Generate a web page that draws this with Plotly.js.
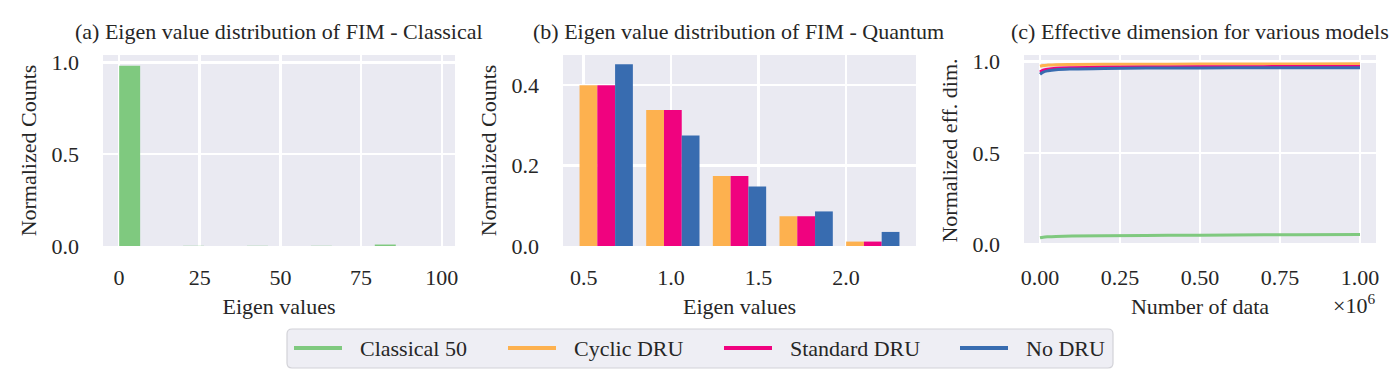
<!DOCTYPE html>
<html>
<head>
<meta charset="utf-8">
<script src="https://cdn.plot.ly/plotly-3.0.1.min.js"></script>
<style>
html,body{margin:0;padding:0;background:#fff;}
#chart{width:1400px;height:379px;}
</style>
</head>
<body>
<div id="chart"></div>
<script>
// ---- Data ----
// (a) classical FIM eigenvalue histogram
const classicalBinCenters = [3.3, 23.1, 42.9, 62.7, 82.5];
const classicalCounts = [0.981, 0.001, 0.001, 0.001, 0.008];

// (b) quantum FIM eigenvalue histogram (bin centers)
const quantumBinCenters = [0.629, 1.010, 1.391, 1.772, 2.153];
const cyclicCounts = [0.400, 0.338, 0.174, 0.074, 0.011];
const standardCounts = [0.400, 0.338, 0.174, 0.074, 0.011];
const noDruCounts = [0.452, 0.275, 0.148, 0.086, 0.035];

// (c) normalized effective dimension vs number of data
const numData = [0, 10000, 25000, 50000, 100000, 200000, 400000, 600000, 800000, 1000000];
const effClassical = [0.038, 0.041, 0.043, 0.045, 0.047, 0.049, 0.051, 0.053, 0.055, 0.056];
const effCyclic = [0.974, 0.978, 0.980, 0.982, 0.983, 0.984, 0.985, 0.986, 0.986, 0.987];
const effStandard = [0.942, 0.952, 0.958, 0.963, 0.966, 0.968, 0.970, 0.971, 0.972, 0.972];
const effNoDru = [0.930, 0.942, 0.949, 0.955, 0.959, 0.962, 0.964, 0.965, 0.966, 0.966];

const seriesNames = ['Classical 50', 'Cyclic DRU', 'Standard DRU', 'No DRU'];
const xTicksA = [0, 25, 50, 75, 100];
const xTicksB = [0.5, 1.0, 1.5, 2.0];
const xTicksC = [0, 250000, 500000, 750000, 1000000];
const xTickTextC = ['0.00', '0.25', '0.50', '0.75', '1.00'];

// ---- Style ----
const C_GREEN = '#7fc97f', C_ORANGE = '#fdb14f', C_PINK = '#f0027f', C_BLUE = '#386cb0';
const seriesColors = [C_GREEN, C_ORANGE, C_PINK, C_BLUE];
const FONT = 'Liberation Serif, Times New Roman, serif';
const TXT = '#262626';
const BG = '#eaeaf2';
const W = 1400, H = 379;

const traces = [
  {type:'bar', x: classicalBinCenters, y: classicalCounts, width: 6.5, name: seriesNames[0],
   marker:{color:C_GREEN}, xaxis:'x', yaxis:'y', showlegend:false},

  {type:'bar', x: quantumBinCenters, y: cyclicCounts, name: seriesNames[1],
   marker:{color:C_ORANGE}, xaxis:'x2', yaxis:'y2', showlegend:false, offsetgroup:'a'},
  {type:'bar', x: quantumBinCenters, y: standardCounts, name: seriesNames[2],
   marker:{color:C_PINK}, xaxis:'x2', yaxis:'y2', showlegend:false, offsetgroup:'b'},
  {type:'bar', x: quantumBinCenters, y: noDruCounts, name: seriesNames[3],
   marker:{color:C_BLUE}, xaxis:'x2', yaxis:'y2', showlegend:false, offsetgroup:'c'},

  {type:'scatter', mode:'lines', x: numData, y: effClassical, name: seriesNames[0],
   line:{color:C_GREEN, width:3, shape:'spline'}, xaxis:'x3', yaxis:'y3', showlegend:false},
  {type:'scatter', mode:'lines', x: numData, y: effCyclic, name: seriesNames[1],
   line:{color:C_ORANGE, width:3, shape:'spline'}, xaxis:'x3', yaxis:'y3', showlegend:false},
  {type:'scatter', mode:'lines', x: numData, y: effStandard, name: seriesNames[2],
   line:{color:C_PINK, width:3, shape:'spline'}, xaxis:'x3', yaxis:'y3', showlegend:false},
  {type:'scatter', mode:'lines', x: numData, y: effNoDru, name: seriesNames[3],
   line:{color:C_BLUE, width:3, shape:'spline'}, xaxis:'x3', yaxis:'y3', showlegend:false}
];

const yDom = [1 - 246/H, 1 - 55/H];
const TICKFONT = {family: FONT, size: 22, color: TXT};
const TITLEFONT = {family: FONT, size: 22, color: TXT};

function xax(domain, range, titleText, extra) {
  return Object.assign({
    domain: domain, range: range, showgrid: true, gridcolor: '#ffffff', gridwidth: 2.5,
    zeroline: false, showline: false, ticks: '', ticklabelstandoff: 16,
    tickfont: TICKFONT,
    title: {text: titleText, font: TITLEFONT, standoff: 9},
    fixedrange: true
  }, extra);
}
function yax(anchor, range, titleText, extra) {
  return Object.assign({
    domain: yDom, range: range, anchor: anchor, showgrid: true, gridcolor: '#ffffff', gridwidth: 2.5,
    zeroline: false, showline: false, ticks: '', ticklabelstandoff: 23,
    tickfont: TICKFONT,
    title: {text: titleText, font: TITLEFONT, standoff: 8},
    fixedrange: true
  }, extra);
}

// ---- Legend (drawn below the panels) ----
const legendBox = {x0: 287, x1: 1113, y0: 329, y1: 368, r: 5};
const legendLineStart = [294, 508, 724, 960];
const legendLineLen = 48, legendTextGap = 16, legendY = 348;

function px(x) { return x / W; }
function py(y) { return 1 - y / H; }

const shapes = [];
const annotations = [
  {text:'(a) Eigen value distribution of FIM - Classical', xref:'paper', yref:'paper', x:px(279), y:py(32), xanchor:'center', yanchor:'middle', showarrow:false, font:TITLEFONT},
  {text:'(b) Eigen value distribution of FIM - Quantum', xref:'paper', yref:'paper', x:px(739), y:py(32), xanchor:'center', yanchor:'middle', showarrow:false, font:TITLEFONT},
  {text:'(c) Effective dimension for various models', xref:'paper', yref:'paper', x:px(1200), y:py(32), xanchor:'center', yanchor:'middle', showarrow:false, font:TITLEFONT},
  {text:'×10<sup>6</sup>', xref:'paper', yref:'paper', x:px(1377), y:py(304), xanchor:'right', yanchor:'middle', showarrow:false, font:TITLEFONT}
];

// rounded legend frame
(function(){
  const b = legendBox, r = b.r;
  const X0 = px(b.x0), X1 = px(b.x1), Y0 = py(b.y1), Y1 = py(b.y0);
  const rx = r / W, ry = r / H;
  const path = `M ${X0+rx},${Y1} L ${X1-rx},${Y1} Q ${X1},${Y1} ${X1},${Y1-ry} L ${X1},${Y0+ry} Q ${X1},${Y0} ${X1-rx},${Y0} L ${X0+rx},${Y0} Q ${X0},${Y0} ${X0},${Y0+ry} L ${X0},${Y1-ry} Q ${X0},${Y1} ${X0+rx},${Y1} Z`;
  shapes.push({type:'path', xref:'paper', yref:'paper', path: path,
    fillcolor:'#eeeef4', line:{color:'#d2d2d8', width:1.2}, layer:'below'});
})();

seriesNames.forEach((name, i) => {
  const xs = legendLineStart[i];
  shapes.push({type:'line', xref:'paper', yref:'paper',
    x0: px(xs), x1: px(xs + legendLineLen), y0: py(legendY), y1: py(legendY),
    line:{color: seriesColors[i], width: 4}});
  annotations.push({text: name, xref:'paper', yref:'paper',
    x: px(xs + legendLineLen + legendTextGap), y: py(legendY), xanchor:'left', yanchor:'middle',
    showarrow:false, font:{family: FONT, size: 22, color: TXT}});
});

const layout = {
  width: W, height: H,
  margin: {l: 0, r: 0, t: 0, b: 0},
  paper_bgcolor: '#ffffff',
  plot_bgcolor: BG,
  font: {family: FONT, size: 22, color: TXT},
  barmode: 'group', bargap: 0.2, bargroupgap: 0,
  showlegend: false,
  xaxis: xax([103/W, 455/W], [-4.96, 104.1], 'Eigen values', {anchor:'y', tickvals: xTicksA}),
  yaxis: yax('x', [0, 1.04], 'Normalized Counts', {tickvals:[0,0.5,1.0], tickformat:'.1f'}),
  xaxis2: xax([563/W, 916/W], [0.382, 2.40], 'Eigen values', {anchor:'y2', tickvals: xTicksB, tickformat:'.1f'}),
  yaxis2: yax('x2', [0, 0.475], 'Normalized Counts', {tickvals:[0,0.2,0.4], tickformat:'.1f'}),
  xaxis3: xax([1024/W, 1376/W], [-50000, 1050000], 'Number of data', {anchor:'y3', tickvals: xTicksC, ticktext: xTickTextC}),
  yaxis3: yax('x3', [-0.007, 1.035], 'Normalized eff. dim.', {tickvals:[0,0.5,1.0], tickformat:'.1f'}),
  shapes: shapes,
  annotations: annotations
};

Plotly.newPlot('chart', traces, layout, {displayModeBar: false, staticPlot: true});
</script>
</body>
</html>
